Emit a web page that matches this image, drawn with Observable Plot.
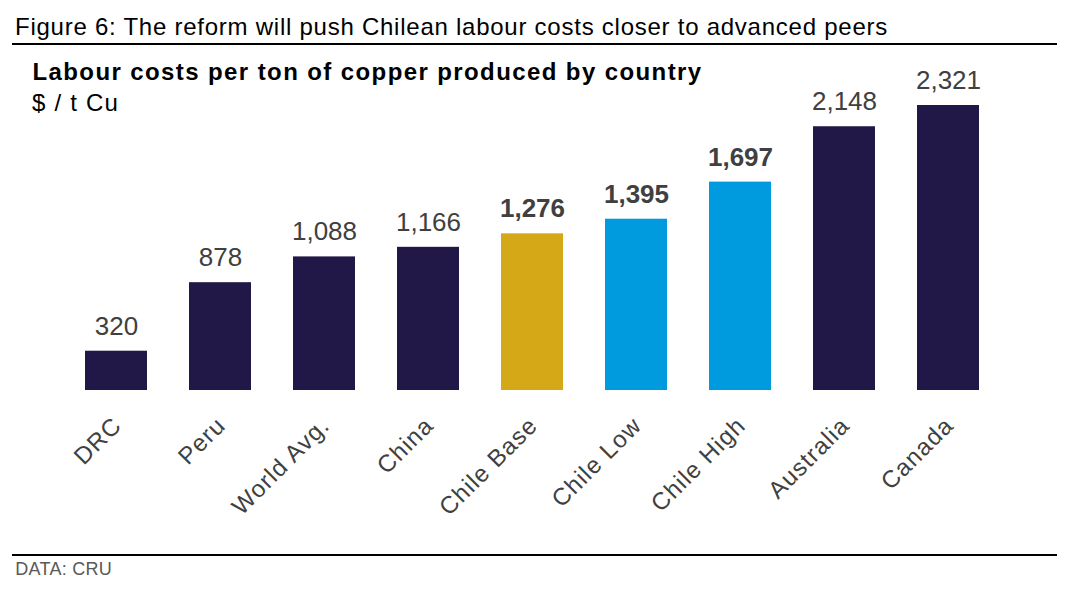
<!DOCTYPE html>
<html>
<head>
<meta charset="utf-8">
<script src="https://cdn.jsdelivr.net/npm/d3@7"></script>
<script src="https://cdn.jsdelivr.net/npm/@observablehq/plot@0.6"></script>
<style>
  html, body { margin: 0; padding: 0; background: #fff; overflow: hidden; }
  #wrap { position: relative; width: 1069px; height: 594px; font-family: "Liberation Sans", Arial, sans-serif; }
  .abs { position: absolute; white-space: nowrap; z-index: 2; }
  #figtitle { left: 15px; top: 14.6px; font-size: 24px; line-height: 24px; letter-spacing: 0.75px; color: #000; }
  #topline { left: 12px; top: 43px; width: 1045px; height: 1.5px; background: #000; }
  #ctitle { left: 32.5px; top: 59.6px; font-size: 24px; line-height: 24px; letter-spacing: 1.4px; font-weight: bold; color: #000; }
  #csub { left: 32px; top: 90.6px; font-size: 24px; line-height: 24px; letter-spacing: 1.2px; color: #000; }
  #botline { left: 12px; top: 554px; width: 1045px; height: 2px; background: #000; }
  #caption { left: 15.3px; top: 559.8px; font-size: 18px; line-height: 18px; letter-spacing: 0.25px; color: #595959; }
  #chart { position: absolute; left: 0; top: 45px; z-index: 1; }
</style>
</head>
<body>
<div id="wrap">
  <div id="chart"></div>
  <div class="abs" id="figtitle">Figure 6: The reform will push Chilean labour costs closer to advanced peers</div>
  <div class="abs" id="topline"></div>
  <div class="abs" id="ctitle">Labour costs per ton of copper produced by country</div>
  <div class="abs" id="csub">$ / t Cu</div>
  <div class="abs" id="botline"></div>
  <div class="abs" id="caption">DATA: CRU</div>
</div>
<script>
const countries = ["DRC", "Peru", "World Avg.", "China", "Chile Base", "Chile Low", "Chile High", "Australia", "Canada"];
const costs = [320, 878, 1088, 1166, 1276, 1395, 1697, 2148, 2321];
const groups = ["Peer", "Peer", "Peer", "Peer", "Chile base", "Chile scenario", "Chile scenario", "Peer", "Peer"];

const groupDomain = ["Peer", "Chile base", "Chile scenario"];
const groupColors = ["#211847", "#D4A817", "#009BDE"];

const data = countries.map((c, i) => ({country: c, cost: costs[i], group: groups[i]}));
const fmt = d3.format(",");

const plot = Plot.plot({
  width: 1069,
  height: 510,
  marginTop: 60,
  marginBottom: 165,
  marginLeft: 42.25,
  marginRight: 46.25,
  style: {fontFamily: "'Liberation Sans', Arial, sans-serif", background: "transparent", overflow: "visible"},
  x: {domain: countries, padding: 0.4, axis: null},
  y: {domain: [0, d3.max(costs)], axis: null},
  color: {domain: groupDomain, range: groupColors},
  marks: [
    Plot.barY(data, {x: "country", y: "cost", fill: "group"}),
    Plot.text(data.filter(d => d.group === "Peer"), {
      x: "country", y: "cost", text: d => fmt(d.cost),
      lineAnchor: "bottom", dy: -16.5, fontSize: 26, fill: "#404040"
    }),
    Plot.text(data.filter(d => d.group !== "Peer"), {
      x: "country", y: "cost", text: d => fmt(d.cost),
      lineAnchor: "bottom", dy: -16.5, fontSize: 26, fontWeight: "bold", fill: "#404040"
    }),
    Plot.text(data, {
      x: "country", frameAnchor: "bottom", text: "country",
      rotate: -45, textAnchor: "end", lineAnchor: "middle",
      dx: 1, dy: 31, fontSize: 24, fill: "#404040"
    })
  ]
});
d3.select(plot).selectAll("g[aria-label='text']").filter((d, i) => i === 2).attr("letter-spacing", "1.1px");
document.getElementById("chart").appendChild(plot);
</script>
</body>
</html>
